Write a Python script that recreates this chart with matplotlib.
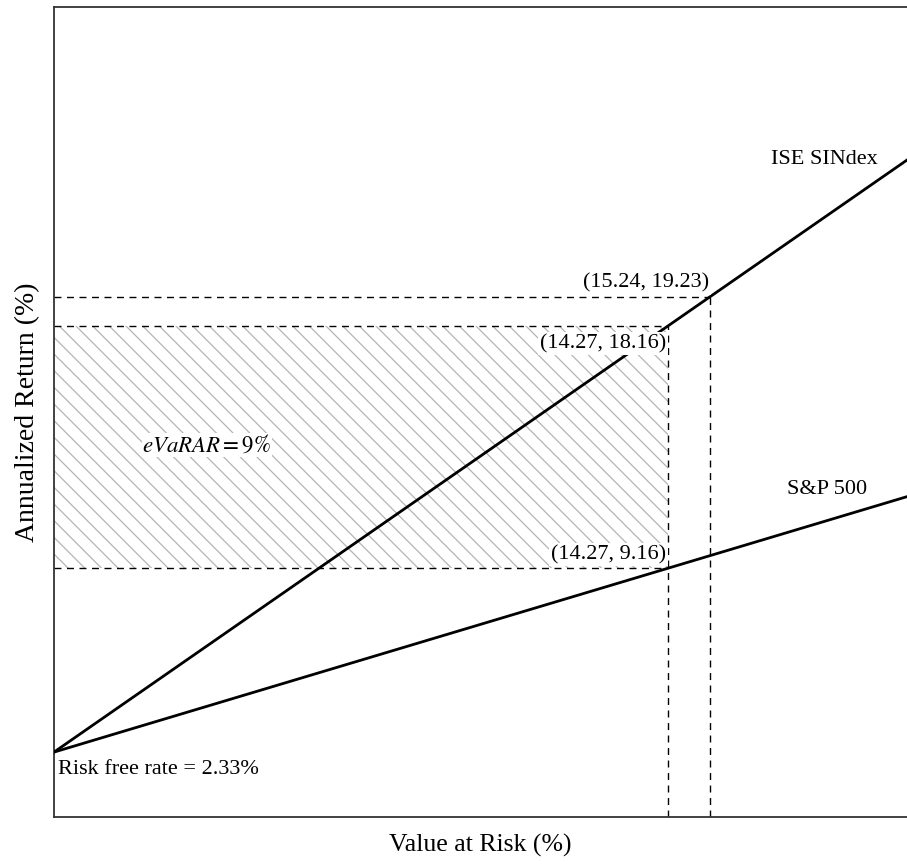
import matplotlib
matplotlib.use("Agg")
import matplotlib.pyplot as plt
import numpy as np

plt.rcParams['font.family'] = ['Liberation Serif', 'DejaVu Serif']
plt.rcParams['mathtext.fontset'] = 'stix'
plt.rcParams['hatch.color'] = '#b4b4b4'
plt.rcParams['hatch.linewidth'] = 0.9

# values
risk_free = 2.33
var_points = [14.27, 15.24]          # value at risk (%)
ise_returns = [18.16, 19.23]         # ISE SINdex return at those VaR levels
sp_return = 9.16                     # S&P 500 return at VaR = 14.27
evarar = 9
x_max = 19.82
y_min, y_max = -0.08, 30.0

ise_slope = (ise_returns[0] - risk_free) / var_points[0]
sp_slope = (sp_return - risk_free) / var_points[0]
xs = np.array([0, x_max])

fig = plt.figure(figsize=(9.07, 8.64), dpi=100)
ax = fig.add_axes([54 / 907, 1 - 817 / 864, 1 - 54 / 907, 810 / 864])
ax.set_xlim(0, x_max)
ax.set_ylim(y_min, y_max)

# hatched eVaRAR area
ax.fill_between([0, var_points[0]], sp_return, ise_returns[0],
                facecolor='none', edgecolor='#b4b4b4', hatch='\\\\', linewidth=0)

# dashed guide lines
dash = dict(color='black', lw=1, linestyle=(0, (5, 4)))
ax.plot([0, var_points[0]], [ise_returns[0]] * 2, **dash)
ax.plot([0, var_points[0]], [sp_return] * 2, **dash)
ax.plot([0, var_points[1]], [ise_returns[1]] * 2, **dash)
ax.plot([var_points[0]] * 2, [y_min, ise_returns[0]], **dash)
ax.plot([var_points[1]] * 2, [y_min, ise_returns[1]], **dash)

# return lines from the risk free rate
ax.plot(xs, risk_free + ise_slope * xs, color='black', lw=2, zorder=3)
ax.plot(xs, risk_free + sp_slope * xs, color='black', lw=2, zorder=3)

box = dict(facecolor='white', edgecolor='none', pad=1.5)
fs = 16
ax.text(var_points[1] - 0.02, ise_returns[1] + 0.15, "(%.2f, %.2f)" % (var_points[1], ise_returns[1]),
        ha='right', va='bottom', fontsize=fs, bbox=box, zorder=4)
ax.text(var_points[0] - 0.05, ise_returns[0] - 0.3, "(%.2f, %.2f)" % (var_points[0], ise_returns[0]),
        ha='right', va='top', fontsize=fs, bbox=box, zorder=4)
ax.text(var_points[0] - 0.05, sp_return + 0.15, "(%.2f, %.2f)" % (var_points[0], sp_return),
        ha='right', va='bottom', fontsize=fs, bbox=box, zorder=4)
ax.text(2.05, 13.73, r'$eVaRAR = %d\%%$' % evarar, ha='left', va='center',
        fontsize=fs + 0.5, bbox=dict(facecolor='white', edgecolor='none', pad=0.5), zorder=4)
ax.text(0.1, risk_free - 0.3, "Risk free rate = %.2f%%" % risk_free,
        ha='left', va='top', fontsize=fs, zorder=4)
ax.text(19.15, 24.35, "ISE SINdex", ha='right', va='center', fontsize=fs)
ax.text(18.9, 12.1, "S&P 500", ha='right', va='center', fontsize=fs)

ax.set_xticks([])
ax.set_yticks([])
ax.spines['right'].set_visible(False)
for s in ['left', 'top', 'bottom']:
    ax.spines[s].set_linewidth(1.3)
    ax.spines[s].set_color('#333333')
ax.set_xlabel("Value at Risk (%)", fontsize=18.5, labelpad=12)
ax.set_ylabel("Annualized Return (%)", fontsize=20, labelpad=10)

fig.savefig("out.png", dpi=100)
